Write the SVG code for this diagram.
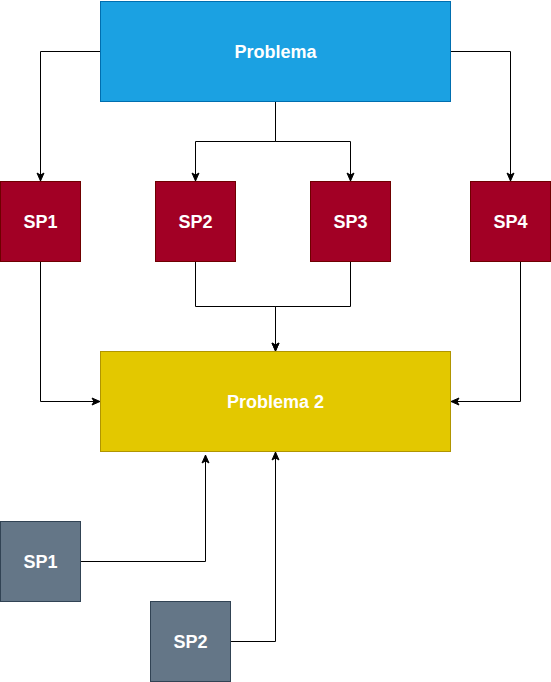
<svg xmlns="http://www.w3.org/2000/svg" width="551" height="682" viewBox="0 0 551 682">
<style>
text{font-family:"Liberation Sans",Arial,sans-serif;font-weight:bold;font-size:18px;fill:#ffffff;text-anchor:middle;dominant-baseline:central}
.c{fill:none;stroke:#000;stroke-width:1;marker-end:url(#a)}
.blue{fill:#1BA1E2;stroke:#006EAF}
.red{fill:#A20025;stroke:#6F0000}
.yel{fill:#E3C800;stroke:#B09500}
.gray{fill:#647687;stroke:#314354}
</style>
<defs>
<marker id="a" markerWidth="10" markerHeight="10" viewBox="0 0 10 10" refX="9" refY="5" orient="auto" markerUnits="userSpaceOnUse">
<path d="M1,1.5 L9,5 L1,8.5 L3,5 z" fill="#000" stroke="#000" stroke-width="1"/>
</marker>
</defs>
<g id="connectors">
<path class="c" d="M100.5,51.5 H40.5 V181"/>
<path class="c" d="M275.5,101.5 V141.5 H195.5 V181"/>
<path class="c" d="M275.5,101.5 V141.5 H350.5 V181"/>
<path class="c" d="M450.5,51.5 H510.5 V181"/>
<path class="c" d="M40.5,261.5 V401.5 H100"/>
<path class="c" d="M195.5,261.5 V306.5 H275.5 V351"/>
<path class="c" d="M350.5,261.5 V306.5 H275.5 V351"/>
<path class="c" d="M520.5,261.5 V401.5 H451"/>
<path class="c" d="M80.5,561.5 H205.5 V455"/>
<path class="c" d="M230.5,641.5 H275.5 V452"/>
</g>
<g id="problema"><rect class="blue" x="100.5" y="1.5" width="350" height="100"/><text x="275.5" y="51.5">Problema</text></g>
<g id="sp1"><rect class="red" x="0.5" y="181.5" width="80" height="80"/><text x="40.5" y="221.5">SP1</text></g>
<g id="sp2"><rect class="red" x="155.5" y="181.5" width="80" height="80"/><text x="195.5" y="221.5">SP2</text></g>
<g id="sp3"><rect class="red" x="310.5" y="181.5" width="80" height="80"/><text x="350.5" y="221.5">SP3</text></g>
<g id="sp4"><rect class="red" x="470.5" y="181.5" width="80" height="80"/><text x="510.5" y="221.5">SP4</text></g>
<g id="problema2"><rect class="yel" x="100.5" y="351.5" width="350" height="100"/><text x="275.5" y="401.5">Problema 2</text></g>
<g id="sp1b"><rect class="gray" x="0.5" y="521.5" width="80" height="80"/><text x="40.5" y="561.5">SP1</text></g>
<g id="sp2b"><rect class="gray" x="150.5" y="601.5" width="80" height="80"/><text x="190.5" y="641.5">SP2</text></g>
</svg>
